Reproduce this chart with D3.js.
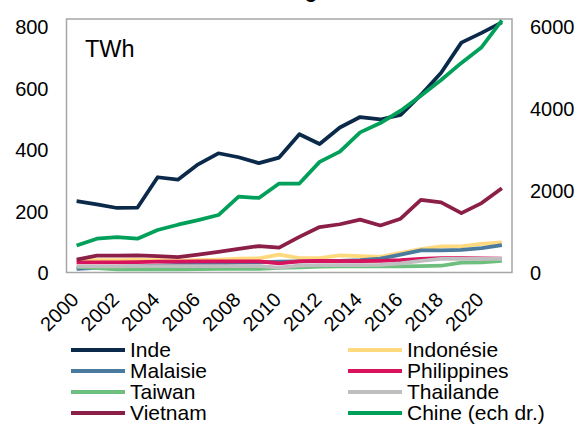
<html>
<head>
 <meta charset="UTF-8">
 <title>Électricité au charbon</title>
 <script src="https://cdn.jsdelivr.net/npm/d3@7"></script>
 <style>
body { margin: 0; background: #fff; }
svg { font-family: Arial, "Liberation Sans", sans-serif; }
.tick text, .lbl { font-size: 20px; fill: #000; }
.leg { font-size: 21px; fill: #000; }
.serie { fill: none; stroke-width: 3.75px; stroke-linejoin: round; }
 </style>
</head>
<body>
<svg id="chart" width="581" height="424"></svg>
<script>
var years = [2000,2001,2002,2003,2004,2005,2006,2007,2008,2009,2010,2011,2012,2013,2014,2015,2016,2017,2018,2019,2020,2021];
var yearLabels = [2000,2002,2004,2006,2008,2010,2012,2014,2016,2018,2020];
var leftTicks = [0,200,400,600,800];
var rightTicks = [0,2000,4000,6000];

// TWh, échelle de gauche
var inde = [232,222,210,211,310,302,352,388,375,356,374,450,418,472,506,498,513,578,650,748,780,814];
var indonesie = [36,40,40,41,40,39,40,42,45,46,58,47,47,56,53,51,64,76,85,85,93,98];
var malaisie = [12,15,18,20,22,25,28,30,32,33,35,36,37,38,40,45,58,72,72,74,79,89];
var philippines = [33,33,33,34,35,35,36,36,36,36,30,36,38,37,37,38,40,44,47,47,46,45];
var taiwan = [18,14,10,10,10,10,11,12,12,12,15,17,19,20,20,20,20,21,22,32,33,38];
var thailande = [20,20,20,21,21,21,21,21,21,21,16,22,24,24,24,25,30,38,44,44,44,44];
var vietnam = [42,55,55,56,53,50,58,67,77,86,81,116,148,157,172,153,175,236,228,193,226,274];
// TWh, échelle de droite
var chine = [661,825,864,825,1036,1167,1280,1403,1853,1819,2171,2171,2700,2950,3420,3648,3949,4316,4700,5116,5500,6152];

var series = [
  {name: "Inde", values: inde, color: "#0b2a4a", axis: "l"},
  {name: "Indonésie", values: indonesie, color: "#ffd97d", axis: "l"},
  {name: "Malaisie", values: malaisie, color: "#4a7a9e", axis: "l"},
  {name: "Philippines", values: philippines, color: "#d6135c", axis: "l"},
  {name: "Taiwan", values: taiwan, color: "#6cbf7c", axis: "l"},
  {name: "Thailande", values: thailande, color: "#bfbfbf", axis: "l"},
  {name: "Vietnam", values: vietnam, color: "#8c1f47", axis: "l"},
  {name: "Chine (ech dr.)", values: chine, color: "#00a05a", axis: "r"}
];

var pLeft = 66.5, pRight = 512, pTop = 19, pBottom = 272.5;
var svg = d3.select("#chart");

var x = d3.scaleBand().domain(years).range([pLeft, pRight]),
  xc = function(d){ return x(d) + x.bandwidth() / 2; },
  yl = d3.scaleLinear().domain([0, 825]).range([pBottom, pTop]),
  yr = d3.scaleLinear().domain([0, 6187.5]).range([pBottom, pTop]);

// titre (coupé en haut de l'image)
var title = svg.append("text")
  .attr("x", 290).attr("y", -2)
  .attr("text-anchor", "middle")
  .style("font-size", "20px").style("font-weight", "bold")
  .text("Électricité au charbon en Asie émergente");
var gi = title.text().indexOf("g");
var gx = title.node().getStartPositionOfChar(gi).x;
title.attr("x", 290 + (305 - gx));

svg.append("rect")
  .attr("x", pLeft).attr("y", pTop)
  .attr("width", pRight - pLeft).attr("height", pBottom - pTop)
  .attr("fill", "none").attr("stroke", "#a6a6a6").attr("stroke-width", 1.5);

svg.append("g")
  .attr("transform", "translate(" + (pLeft - 18) + ",0)")
  .call(d3.axisLeft(yl).tickValues(leftTicks).tickSize(0).tickPadding(0).tickFormat(d3.format("d")))
  .call(function(g){ g.select(".domain").remove(); })
  .selectAll("text").attr("dy", "0.35em");

svg.append("g")
  .attr("transform", "translate(" + (pRight + 18) + ",0)")
  .call(d3.axisRight(yr).tickValues(rightTicks).tickSize(0).tickPadding(0).tickFormat(d3.format("d")))
  .call(function(g){ g.select(".domain").remove(); })
  .selectAll("text").attr("dy", "0.35em");

var xa = svg.append("g")
  .attr("transform", "translate(0," + (pBottom + 10) + ")")
  .call(d3.axisBottom(x).tickValues(yearLabels).tickSize(0).tickPadding(0));
xa.select(".domain").remove();
xa.selectAll("text")
  .attr("text-anchor", "end")
  .attr("dx", "0.1em").attr("dy", "0.7em")
  .attr("transform", "translate(-8,10) rotate(-45)");

svg.append("text").attr("class", "lbl")
  .attr("x", 85).attr("y", 57)
  .style("font-size", "23.5px")
  .text("TWh");

series.forEach(function(s){
  var ys = s.axis === "r" ? yr : yl;
  svg.append("path")
    .attr("class", "serie")
    .attr("stroke", s.color)
    .attr("d", d3.line()
      .x(function(d, i){ return xc(years[i]); })
      .y(function(d){ return ys(d); })
      (s.values));
});

var leg = svg.append("g");
series.forEach(function(s, i){
  var col = i % 2, row = Math.floor(i / 2),
    lx = col === 0 ? 71 : 348,
    ly = 350 + row * 21;
  leg.append("line")
    .attr("x1", lx).attr("x2", lx + 54)
    .attr("y1", ly).attr("y2", ly)
    .attr("stroke", s.color).attr("stroke-width", 4);
  leg.append("text").attr("class", "leg")
    .attr("x", lx + 59).attr("y", ly)
    .attr("dy", "0.35em")
    .text(s.name);
});
</script>
</body>
</html>
